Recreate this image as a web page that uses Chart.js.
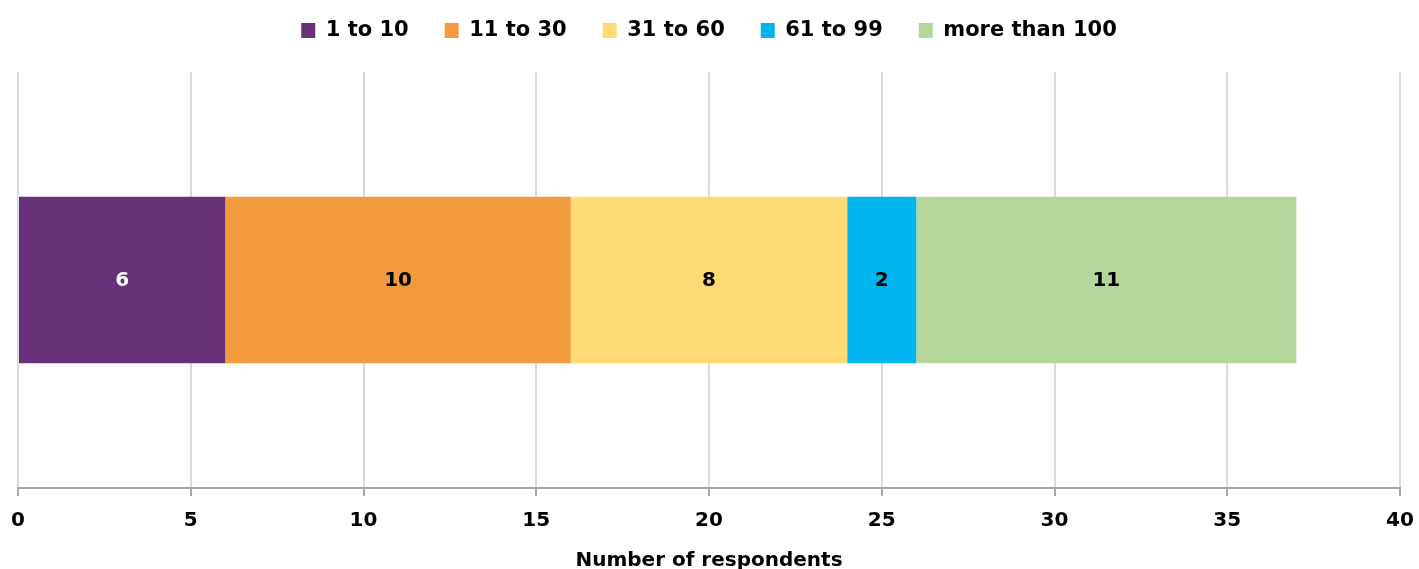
<!DOCTYPE html>
<html>
<head>
<meta charset="utf-8">
<title>Number of respondents</title>
<script src="https://cdn.jsdelivr.net/npm/chart.js"></script>
<style>
  html, body { margin: 0; padding: 0; background: #ffffff; }
  #wrap { width: 1419px; height: 569px; }
</style>
</head>
<body>
<div id="wrap"><canvas id="respondents-chart" width="1419" height="569"></canvas></div>
<script>
// Respondents grouped by size band
const categories = [''];
const bandLabels = ['1 to 10', '11 to 30', '31 to 60', '61 to 99', 'more than 100'];
const bandCounts = [6, 10, 8, 2, 11];
const bandColors = ['#663178', '#f29b3e', '#ffda74', '#00b4ee', '#b4d69a'];
const labelColors = ['#ffffff', '#000000', '#000000', '#000000', '#000000'];
const xTicks = [0, 5, 10, 15, 20, 25, 30, 35, 40];

const FONT = "'DejaVu Sans', sans-serif";

// Writes each segment's count in the middle of the segment
const segmentLabels = {
    id: 'segmentLabels',
    afterDatasetsDraw(chart) {
        const ctx = chart.ctx;
        ctx.save();
        ctx.font = 'bold 20px ' + FONT;
        ctx.textAlign = 'center';
        ctx.textBaseline = 'middle';
        chart.data.datasets.forEach((ds, i) => {
            const meta = chart.getDatasetMeta(i);
            meta.data.forEach((bar, j) => {
                const c = bar.getCenterPoint();
                ctx.fillStyle = labelColors[i];
                ctx.fillText(String(ds.data[j]), c.x, c.y + 1);
            });
        });
        ctx.restore();
    }
};

// Extra room between the legend and the plot
const legendGap = {
    id: 'legendGap',
    beforeInit(chart) {
        const fit = chart.legend.fit;
        chart.legend.fit = function () {
            fit.call(this);
            this.height += 21;
        };
    }
};

const datasets = bandLabels.map((label, i) => ({
    label: label,
    data: [bandCounts[i]],
    backgroundColor: bandColors[i],
    borderWidth: 0,
    categoryPercentage: 1,
    barPercentage: 0.4
}));

new Chart(document.getElementById('respondents-chart').getContext('2d'), {
    type: 'bar',
    data: { labels: categories, datasets: datasets },
    plugins: [legendGap, segmentLabels],
    options: {
        indexAxis: 'y',
        responsive: false,
        animation: false,
        layout: { padding: { left: 18, right: 19, top: -16, bottom: -4 } },
        plugins: {
            legend: {
                position: 'top',
                labels: {
                    color: '#000000',
                    font: { family: FONT, size: 21, weight: 'bold' },
                    boxWidth: 14,
                    boxHeight: 15,
                    padding: 36
                }
            },
            tooltip: { enabled: false }
        },
        scales: {
            x: {
                stacked: true,
                min: 0,
                max: 40,
                afterBuildTicks(axis) {
                    axis.ticks = xTicks.map(v => ({ value: v }));
                },
                // end labels may overhang the plot; the layout padding covers them
                afterFit(axis) {
                    axis.paddingLeft = 0;
                    axis.paddingRight = 0;
                },
                ticks: {
                    color: '#000000',
                    font: { family: FONT, size: 20, weight: 'bold' },
                    padding: 13
                },
                grid: {
                    color: '#dadada',
                    lineWidth: 2,
                    tickColor: '#a6a6a6',
                    tickLength: 8
                },
                border: { color: '#a6a6a6', width: 2 },
                title: {
                    display: true,
                    text: 'Number of respondents',
                    color: '#000000',
                    font: { family: FONT, size: 20, weight: 'bold' },
                    padding: { top: 3, bottom: 0 }
                }
            },
            y: {
                stacked: true,
                display: false
            }
        }
    }
});
</script>
</body>
</html>
